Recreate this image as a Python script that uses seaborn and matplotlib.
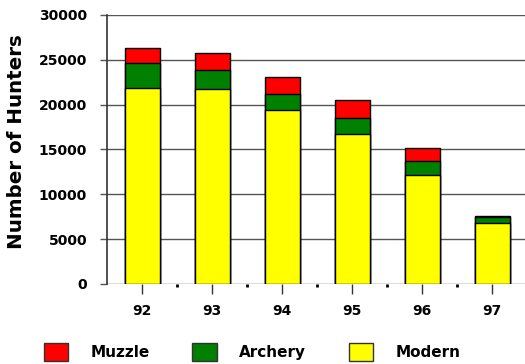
import matplotlib
matplotlib.use("Agg")
import matplotlib.pyplot as plt
from matplotlib.patches import Patch
from matplotlib.ticker import FixedLocator
import seaborn as sns
import pandas as pd
import numpy as np

years = ["92", "93", "94", "95", "96", "97"]
modern = [21900, 21700, 19400, 16700, 12100, 6800]
archery = [2700, 2200, 1800, 1800, 1600, 650]
muzzle = [1700, 1900, 1900, 2000, 1500, 150]

series_names = ["Muzzle", "Archery", "Modern"]
colors = {"Muzzle": "#FF0000", "Archery": "#008000", "Modern": "#FFFF00"}

df = pd.DataFrame({"year": years, "Modern": modern, "Archery": archery, "Muzzle": muzzle})
df["Modern_top"] = df["Modern"]
df["Archery_top"] = df["Modern"] + df["Archery"]
df["Muzzle_top"] = df["Archery_top"] + df["Muzzle"]

sns.set_theme(style="white")
plt.rcParams["font.family"] = ["DejaVu Sans"]
plt.rcParams["font.weight"] = "bold"
plt.rcParams["text.color"] = "black"
plt.rcParams["axes.labelcolor"] = "black"
plt.rcParams["xtick.color"] = "black"
plt.rcParams["ytick.color"] = "black"

fig = plt.figure(figsize=(5.25, 3.64), dpi=100)
ax = fig.add_axes([0.2044, 0.2198, 0.8, 0.739])

# stacked bars drawn as overlapping cumulative totals
for name in ["Muzzle", "Archery", "Modern"]:
    sns.barplot(data=df, x="year", y=f"{name}_top", color=colors[name],
                width=0.5, edgecolor="black", linewidth=1.0, saturation=1,
                ax=ax, zorder=3)

ax.set_xlim(-0.5, 5.5)
ax.set_ylim(0, 30000)
yticks = np.arange(0, 30001, 5000)
ax.set_yticks(yticks)
ax.set_yticklabels([str(v) for v in yticks], fontsize=10, fontweight="bold")
ax.set_xticks(range(len(years)))
ax.set_xticklabels(years, fontsize=10, fontweight="bold")
ax.xaxis.set_minor_locator(FixedLocator(np.arange(0.5, 5.0, 1.0)))

ax.grid(axis="y", color="#555555", linewidth=1.0, zorder=0)
ax.set_axisbelow(True)
for s in ["top", "right", "bottom"]:
    ax.spines[s].set_visible(False)
ax.spines["left"].set_color("#333333")
ax.spines["left"].set_linewidth(1.2)

ax.tick_params(axis="y", which="major", left=True, length=5, width=1, color="#555555", pad=9.5)
ax.tick_params(axis="x", which="major", bottom=True, length=7, width=1, color="#333333", pad=7.5)
ax.tick_params(axis="x", which="minor", bottom=True, length=2, width=2, color="black")

ax.set_xlabel("")
ax.set_ylabel("Number of Hunters", fontsize=14.3, fontweight="bold")
ax.yaxis.set_label_coords(-0.193, 0.528)

handles = [Patch(facecolor=colors[n], edgecolor="#333333", linewidth=1.0, label=n) for n in series_names]
fig.legend(handles=handles, loc="center", bbox_to_anchor=(0.48, 0.033), ncol=3,
           frameon=False, handlelength=1.63, handleheight=1.44,
           handletextpad=1.44, columnspacing=2.78, prop={"weight": "bold", "size": 11})

fig.savefig("out.png", dpi=100)
